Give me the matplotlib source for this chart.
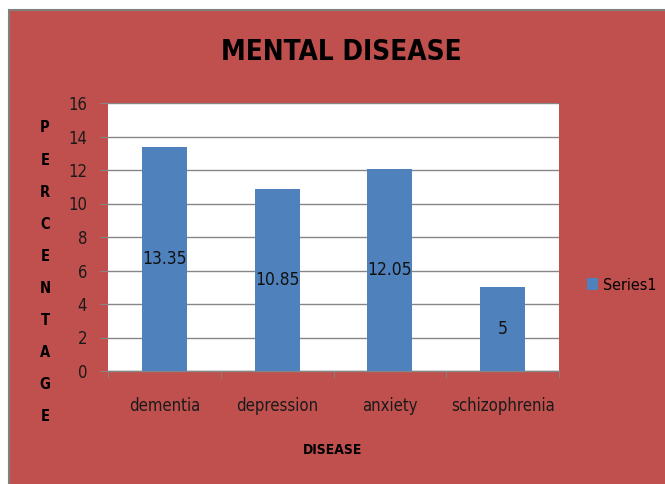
import matplotlib
matplotlib.use('Agg')
import matplotlib.pyplot as plt
from matplotlib.patches import Rectangle
import numpy as np

# data
diseases = ['dementia', 'depression', 'anxiety', 'schizophrenia']
values = [13.35, 10.85, 12.05, 5]
y_ticks = [0, 2, 4, 6, 8, 10, 12, 14, 16]

BG_RED = '#C0504D'
BAR_BLUE = '#4F81BD'
GRID_GRAY = '#868686'

plt.rcParams['font.family'] = ['DejaVu Sans']
plt.rcParams['font.stretch'] = 'condensed'

fig = plt.figure(figsize=(6.65, 4.84), dpi=100)
fig.patch.set_facecolor('white')

# red chart area, gray frame only shows on top and left
bg = Rectangle((8.5 / 665, -0.05), 1.1, 1.05 - 9.5 / 484, transform=fig.transFigure,
               facecolor=BG_RED, edgecolor='#808080', linewidth=1.5, zorder=-5)
fig.patches.append(bg)

ax = fig.add_axes([108 / 665, 1 - 371 / 484, 451 / 665, 268 / 484])
ax.set_facecolor('white')

x = np.arange(len(diseases))
bars = ax.bar(x, values, width=0.4, color=BAR_BLUE, zorder=3)
ax.bar_label(bars, labels=[f'{v:g}' for v in values], label_type='center',
             fontsize=12.5, color='#111111')

ax.set_xlim(-0.5, len(diseases) - 0.5)
ax.set_ylim(0, 16)
ax.set_yticks(y_ticks)
ax.yaxis.grid(True, color=GRID_GRAY, linewidth=1, zorder=1)
ax.set_axisbelow(True)

for s in ['top', 'right', 'left']:
    ax.spines[s].set_visible(False)
ax.spines['bottom'].set_color(GRID_GRAY)
ax.spines['bottom'].set_linewidth(1)

ax.tick_params(axis='y', length=6, color=GRID_GRAY, pad=9, labelsize=12,
               labelcolor='#1a1a1a')
ax.set_xticks(x)
ax.set_xticklabels(diseases)
ax.tick_params(axis='x', which='major', length=0, pad=19, labelsize=12,
               labelcolor='#1a1a1a')
ax.set_xticks(np.arange(len(diseases) + 1) - 0.5, minor=True)
ax.tick_params(axis='x', which='minor', length=5, color=GRID_GRAY, direction='out')

# titles
fig.text(341 / 665, 1 - 52 / 484, 'MENTAL DISEASE', ha='center', va='center',
         fontsize=20, fontweight='bold', color='black')
fig.text(333 / 665, 1 - 450 / 484, 'DISEASE', ha='center', va='center',
         fontsize=10, fontweight='bold', color='black')

# stacked vertical y label
for i, ch in enumerate('PERCENTAGE'):
    fig.text(45 / 665, 1 - (128 + i * 32.1) / 484, ch, ha='center', va='center',
             fontsize=10.5, fontweight='bold', color='black')

leg = ax.legend([bars], ['Series1'], loc='center left',
                bbox_to_anchor=(587 / 665, 1 - 285 / 484), bbox_transform=fig.transFigure,
                frameon=False, fontsize=11.5, handlelength=0.7, handleheight=0.7,
                handletextpad=0.3, borderpad=0, borderaxespad=0)

fig.savefig('out.png', dpi=100, facecolor=fig.get_facecolor())
